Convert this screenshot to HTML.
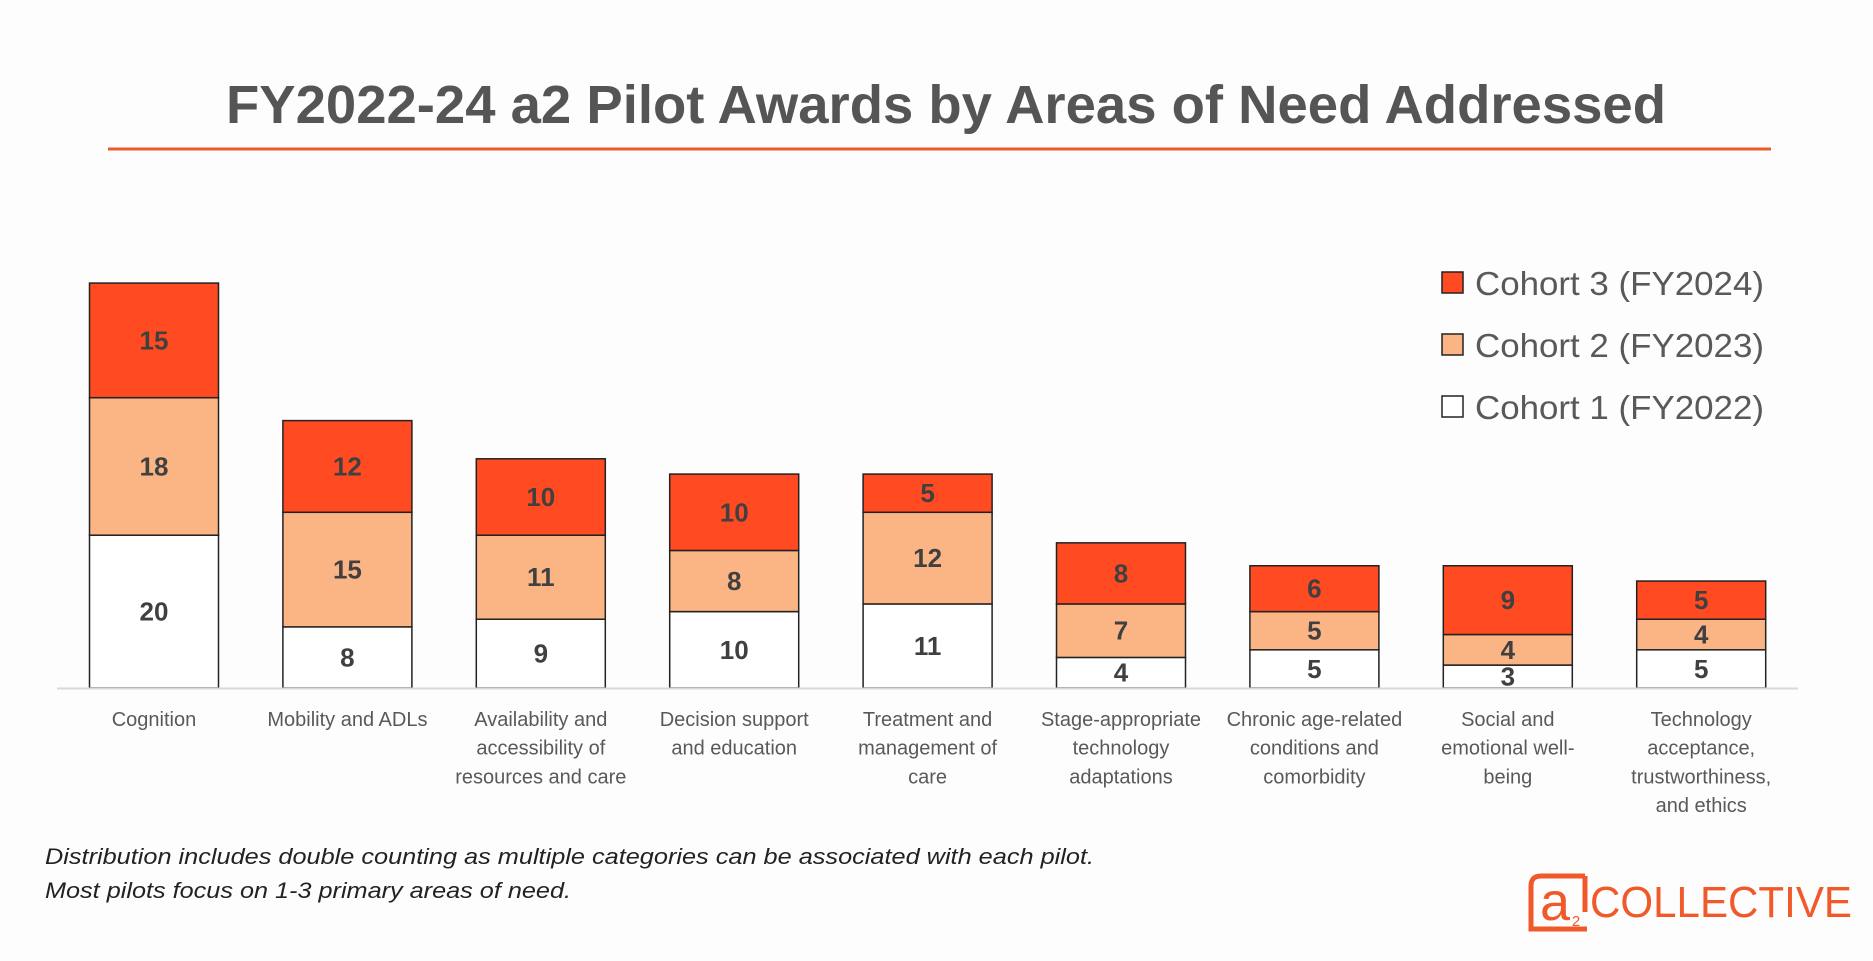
<!DOCTYPE html>
<html><head><meta charset="utf-8"><style>
body{margin:0;background:#fefdfe;}
svg{display:block;font-family:"Liberation Sans",sans-serif;}
</style></head><body>
<svg id="chart" width="1873" height="961">
<text x="946" y="123" text-anchor="middle" font-size="54" font-weight="bold" fill="#555" textLength="1440" lengthAdjust="spacingAndGlyphs">FY2022-24 a2 Pilot Awards by Areas of Need Addressed</text>
<line x1="108" y1="149" x2="1771" y2="149" stroke="#f0592a" stroke-width="3"/>
<g id="bars"></g>
<line x1="57" y1="688.5" x2="1798" y2="688.5" stroke="#d9d9d9" stroke-width="2"/>
<g id="xlabels"></g>
<g>
<g><rect x="1442" y="272" width="21" height="21" fill="#ff4a22" stroke="#222" stroke-width="1.5"/><text x="1475" y="295" font-size="33" fill="#595959" textLength="289" lengthAdjust="spacingAndGlyphs">Cohort 3 (FY2024)</text></g>
<g><rect x="1442" y="334" width="21" height="21" fill="#fbb585" stroke="#222" stroke-width="1.5"/><text x="1475" y="357" font-size="33" fill="#595959" textLength="289" lengthAdjust="spacingAndGlyphs">Cohort 2 (FY2023)</text></g>
<g><rect x="1442" y="396" width="21" height="21" fill="#fff" stroke="#222" stroke-width="1.5"/><text x="1475" y="419" font-size="33" fill="#595959" textLength="289" lengthAdjust="spacingAndGlyphs">Cohort 1 (FY2022)</text></g>
</g>
<text x="45" y="864" font-size="22" font-style="italic" fill="#222" textLength="1049" lengthAdjust="spacingAndGlyphs">Distribution includes double counting as multiple categories can be associated with each pilot.</text>
<text x="45" y="898" font-size="22" font-style="italic" fill="#222" textLength="526" lengthAdjust="spacingAndGlyphs">Most pilots focus on 1-3 primary areas of need.</text>
<g>
<path d="M1585 876 H1541 Q1531 876 1531 886 V929 H1587" fill="none" stroke="#f0592a" stroke-width="5"/>
<path d="M1585 876 V912" fill="none" stroke="#f0592a" stroke-width="5"/>
<text x="1555" y="920" text-anchor="middle" font-size="54" fill="#f0592a">a</text>
<text x="1576" y="926" text-anchor="middle" font-size="15" fill="#f0592a">2</text>
<text x="1590" y="917" font-size="44" fill="#f0592a" textLength="262" lengthAdjust="spacingAndGlyphs">COLLECTIVE</text>
</g>
</svg>
<script>
const categories=[["Cognition"],["Mobility and ADLs"],["Availability and","accessibility of","resources and care"],["Decision support","and education"],["Treatment and","management of","care"],["Stage-appropriate","technology","adaptations"],["Chronic age-related","conditions and","comorbidity"],["Social and","emotional well-","being"],["Technology","acceptance,","trustworthiness,","and ethics"]];
const cohort1=[20,8,9,10,11,4,5,3,5];
const cohort2=[18,15,11,8,12,7,5,4,4];
const cohort3=[15,12,10,10,5,8,6,9,5];
const NS="http://www.w3.org/2000/svg";
const baseY=688, pxPerUnit=7.64, x0=154, step=193.4, bw=129;
const xScale=i=>x0+i*step;
const yScale=v=>baseY-v*pxPerUnit;
const bars=document.getElementById('bars'), xl=document.getElementById('xlabels');
const series=[[cohort1,"#ffffff","cohort-1"],[cohort2,"#fbb585","cohort-2"],[cohort3,"#ff4a22","cohort-3"]];
categories.forEach((cat,i)=>{
  let acc=0;const cx=xScale(i);
  series.forEach(([arr,col,nm])=>{
    const v=arr[i];const y1=yScale(acc),y2=yScale(acc+v);
    const r=document.createElementNS(NS,'rect');
    r.setAttribute('x',cx-bw/2);r.setAttribute('y',y2);r.setAttribute('width',bw);r.setAttribute('height',y1-y2);
    r.setAttribute('fill',col);r.setAttribute('stroke','#222');r.setAttribute('stroke-width','1.5');
    
    
    bars.appendChild(r);
    const t=document.createElementNS(NS,'text');
    t.setAttribute('x',cx);t.setAttribute('y',(y1+y2)/2+9);t.setAttribute('text-anchor','middle');
    t.setAttribute('font-size','26');t.setAttribute('font-weight','bold');t.setAttribute('fill','#404040');
    t.textContent=v;
    
    
    bars.appendChild(t);
    acc+=v;
  });
  cat.forEach((line,j)=>{
    const t=document.createElementNS(NS,'text');
    t.setAttribute('x',cx);t.setAttribute('y',726+j*28.7);t.setAttribute('text-anchor','middle');
    t.setAttribute('font-size','20');t.setAttribute('fill','#595959');
    t.textContent=line;
    
    
    xl.appendChild(t);
  });
});
</script>
</body></html>
